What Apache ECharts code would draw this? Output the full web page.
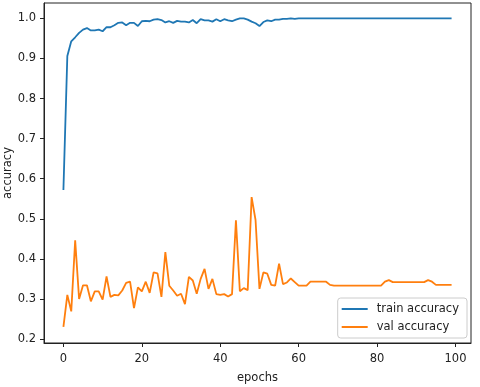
<!DOCTYPE html>
<html>
<head>
<meta charset="utf-8">
<script src="https://cdn.jsdelivr.net/npm/echarts@6/dist/echarts.min.js"></script>
<style>
  html, body { margin: 0; padding: 0; background: #fff; }
  #chart { width: 480px; height: 387px; }
</style>
</head>
<body>
<div id="chart"></div>
<script>
;(function () {

    'use strict';

    // tick labels
    var xTicks = [0, 20, 40, 60, 80, 100];
    var yTicks = [0.2, 0.3, 0.4, 0.5, 0.6, 0.7, 0.8, 0.9, 1.0];

    var seriesNames = ['train accuracy', 'val accuracy'];

    // one value per epoch, 0..99
    var trainAcc = [
        0.572, 0.906, 0.943, 0.953, 0.964, 0.972, 0.976, 0.970, 0.970, 0.972,
        0.968, 0.978, 0.978, 0.983, 0.989, 0.990, 0.983, 0.989, 0.989, 0.981,
        0.993, 0.994, 0.993, 0.997, 0.998, 0.996, 0.990, 0.993, 0.989, 0.994,
        0.992, 0.992, 0.990, 0.996, 0.988, 0.998, 0.995, 0.995, 0.992, 0.998,
        0.993, 0.998, 0.995, 0.993, 0.997, 1.000, 1.000, 0.997, 0.992, 0.988,
        0.981, 0.991, 0.995, 0.993, 0.997, 0.997, 0.999, 0.999, 1.000, 0.999,
        1.000, 1.000, 1.000, 1.000, 1.000, 1.000, 1.000, 1.000, 1.000, 1.000,
        1.000, 1.000, 1.000, 1.000, 1.000, 1.000, 1.000, 1.000, 1.000, 1.000,
        1.000, 1.000, 1.000, 1.000, 1.000, 1.000, 1.000, 1.000, 1.000, 1.000,
        1.000, 1.000, 1.000, 1.000, 1.000, 1.000, 1.000, 1.000, 1.000, 1.000
    ];

    var valAcc = [
        0.230, 0.310, 0.269, 0.446, 0.300, 0.334, 0.334, 0.294, 0.319, 0.319,
        0.298, 0.356, 0.305, 0.310, 0.309, 0.321, 0.340, 0.343, 0.277, 0.329,
        0.319, 0.343, 0.315, 0.366, 0.364, 0.305, 0.417, 0.333, 0.321, 0.308,
        0.313, 0.287, 0.355, 0.346, 0.313, 0.350, 0.375, 0.325, 0.350, 0.312,
        0.310, 0.312, 0.306, 0.312, 0.496, 0.319, 0.327, 0.322, 0.554, 0.497,
        0.325, 0.366, 0.363, 0.335, 0.333, 0.388, 0.337, 0.341, 0.351, 0.342,
        0.333, 0.333, 0.333, 0.343, 0.343, 0.343, 0.343, 0.343, 0.335, 0.333,
        0.333, 0.333, 0.333, 0.333, 0.333, 0.333, 0.333, 0.333, 0.333, 0.333,
        0.333, 0.333, 0.343, 0.347, 0.342, 0.342, 0.342, 0.342, 0.342, 0.342,
        0.342, 0.342, 0.342, 0.347, 0.343, 0.335, 0.335, 0.335, 0.335, 0.335
    ];

    var font = 'DejaVu Sans';
    var ink = '#222';

    var toPairs = function (arr) {
        return arr.map(function (v, i) { return [i, v]; });
    };

    var lineSeries = function (name, values, color) {
        return {
            name: name,
            type: 'line',
            data: toPairs(values),
            showSymbol: false,
            symbol: 'none',
            lineStyle: { color: color, width: 1.8 },
            itemStyle: { color: color },
            z: 3
        };
    };

    var chart = echarts.init(document.getElementById('chart'), null, { renderer: 'canvas' });

    var option = {
        animation: false,
        backgroundColor: '#fff',
        textStyle: { fontFamily: font },
        grid: {
            left: 44, right: 9, top: 3, bottom: 44,
            outerBoundsMode: 'none',
            containLabel: false,
            show: true,
            borderColor: ink,
            borderWidth: 1,
            backgroundColor: 'transparent'
        },
        legend: {
            data: seriesNames,
            orient: 'vertical',
            right: 13,
            bottom: 49,
            icon: 'rect',
            itemWidth: 26,
            itemHeight: 2,
            itemGap: 6,
            padding: [5, 8, 5, 4],
            borderColor: '#ccc',
            borderWidth: 1,
            borderRadius: 3,
            backgroundColor: 'rgba(255,255,255,0.85)',
            textStyle: { fontFamily: font, fontSize: 11.5, color: ink, padding: [0, 0, 0, 4] }
        },
        xAxis: {
            type: 'value',
            min: -4.95,
            max: 103.95,
            name: 'epochs',
            nameLocation: 'middle',
            nameGap: 29,
            nameMoveOverlap: false,
            nameTextStyle: { fontFamily: font, fontSize: 11.5, color: ink },
            axisLine: { show: true, onZero: false, lineStyle: { color: ink, width: 1 } },
            axisTick: { show: true, length: 4, lineStyle: { color: ink }, customValues: xTicks },
            axisLabel: { fontFamily: font, fontSize: 11.5, color: ink, margin: 10, customValues: xTicks },
            splitLine: { show: false }
        },
        yAxis: {
            type: 'value',
            min: 0.19,
            max: 1.0385,
            name: 'accuracy',
            nameLocation: 'middle',
            nameGap: 30,
            nameMoveOverlap: false,
            nameTextStyle: { fontFamily: font, fontSize: 11.5, color: ink },
            axisLine: { show: true, onZero: false, lineStyle: { color: ink, width: 1 } },
            axisTick: { show: true, length: 4, lineStyle: { color: ink }, customValues: yTicks },
            axisLabel: {
                fontFamily: font, fontSize: 11.5, color: ink, margin: 8,
                customValues: yTicks,
                formatter: function (v) { return v.toFixed(1); }
            },
            splitLine: { show: false }
        },
        series: [
            lineSeries(seriesNames[0], trainAcc, '#1f77b4'),
            lineSeries(seriesNames[1], valAcc, '#ff7f0e')
        ]
    };

    chart.setOption(option);

}());
</script>
</body>
</html>
